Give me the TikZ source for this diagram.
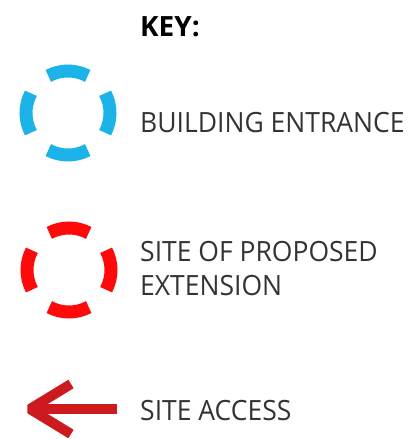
\documentclass[tikz,border=0pt]{standalone}
\usepackage{fontspec}
\setmainfont{Open Sans}
\newfontfamily\keyfont[FakeStretch=0.95]{Open Sans}
\usetikzlibrary{calc,positioning}
\definecolor{entranceblue}{HTML}{1BB3E8}
\definecolor{extensionred}{HTML}{FF0A0A}
\definecolor{accessred}{HTML}{CC1A1F}
\tikzset{
  entrance/.style={draw=entranceblue, line width=13bp},
  extension/.style={draw=extensionred, line width=13bp},
  access/.style={draw=accessred, line width=10bp, line join=bevel},
  keytext/.style={anchor=base west, inner sep=0pt, align=left,
    font=\keyfont\fontsize{28}{34}\selectfont, text=black!80},
}

\begin{document}
\begin{tikzpicture}[x=1bp, y=-1bp]
  \useasboundingbox (0, 0) rectangle (414, 439);

  \node [anchor=base west, inner sep=0pt, font=\bfseries\fontsize{28}{34}\selectfont] (key) at (140, 37) {KEY:};

  % building entrance
  \coordinate (entrance) at (68, 113);
  \foreach \a in {0, 90, 180, 270}
  {
    \draw [entrance] ($(entrance) + (\a - 28:42)$) arc [start angle=\a - 28, end angle=\a + 28, radius=42];
  }
  \node [keytext] (entrancetext) at (140, 133) {BUILDING ENTRANCE};

  % proposed extension
  \coordinate (extension) at (69, 270);
  \foreach \a in {0, 90, 180, 270}
  {
    \draw [extension] ($(extension) + (\a - 28:42)$) arc [start angle=\a - 28, end angle=\a + 28, radius=42];
  }
  \node [keytext] (extensiontext) at (140, 295) {SITE OF PROPOSED\\EXTENSION};

  % site access
  \coordinate (accesstip) at (30, 409);
  \coordinate (accesstail) at (117, 409);
  \draw [access] (accesstail) -- (accesstip);
  \draw [access] ($(accesstip) + (41, -25)$) -- (accesstip) -- ($(accesstip) + (41, 25)$);
  \node [keytext] (accesstext) at (140, 420) {SITE ACCESS};
\end{tikzpicture}
\end{document}
